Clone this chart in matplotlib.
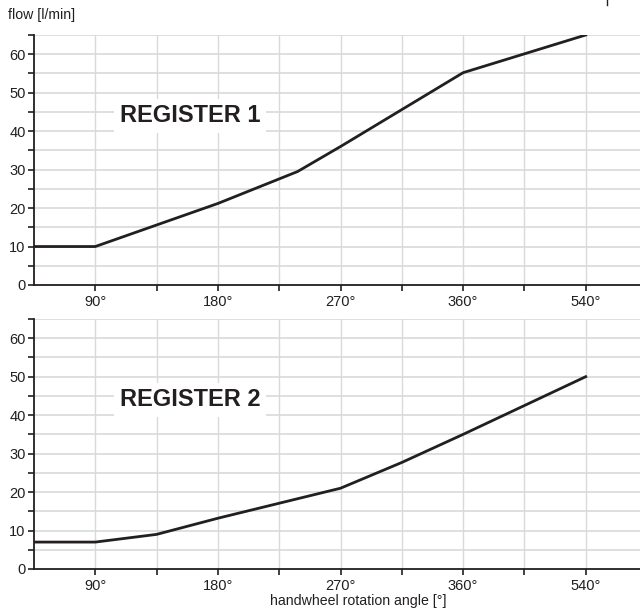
import matplotlib
matplotlib.use("Agg")
import matplotlib.pyplot as plt
from matplotlib import font_manager
from matplotlib.lines import Line2D

names = {f.name for f in font_manager.fontManager.ttflist}
narrow = 'Liberation Sans Narrow' in names
plt.rcParams['font.family'] = ['Liberation Sans Narrow', 'Liberation Sans', 'DejaVu Sans'] if narrow \
    else ['Liberation Sans', 'DejaVu Sans']
tick_fs = 12 if narrow else 10.5
lab_fs = 12 if narrow else 10.2

# x positions are gridline slots, labels sit on odd slots
tick_pos = [1, 3, 5, 7, 9]
tick_labels = ["90°", "180°", "270°", "360°", "540°"]

reg1_x = [0, 1, 3, 4.3, 5, 7, 9]
reg1_y = [10, 10, 21.2, 29.5, 36, 55.2, 65]

reg2_x = [0, 1, 2, 3, 5, 6, 7, 9]
reg2_y = [7, 7, 9, 13.2, 21, 27.7, 35, 50]

fig = plt.figure(figsize=(6.4, 6.12), dpi=100)
ax1 = fig.add_axes([34/640, 1 - 285/612, 606/640, 250/612])
ax2 = fig.add_axes([34/640, 1 - 569/612, 606/640, 250/612])

grid_c = "#d9d9d9"
dark = "#231f20"

for ax, xs, ys, name in [(ax1, reg1_x, reg1_y, "REGISTER 1"),
                         (ax2, reg2_x, reg2_y, "REGISTER 2")]:
    ax.set_xlim(0, 606/61.3)
    ax.set_ylim(0, 65)
    for gx in range(1, 10):
        ax.axvline(gx, color=grid_c, lw=1, zorder=0)
    for gy in range(5, 66, 5):
        ax.axhline(gy, color=grid_c, lw=1.2, zorder=0)
    ax.plot(xs, ys, color=dark, lw=2, solid_joinstyle='miter', zorder=3)
    ax.set_xticks(range(1, 10))
    ax.set_xticklabels(["" if i % 2 == 0 else tick_labels[(i - 1) // 2] for i in range(1, 10)])
    ax.set_yticks(range(0, 61, 10))
    ax.set_yticks(range(5, 66, 10), minor=True)
    ax.tick_params(axis='both', which='both', direction='out', length=4, width=1.2,
                   color=dark, labelsize=tick_fs, labelcolor=dark, pad=2)
    ax.tick_params(axis='x', pad=3)
    for s in ("top", "right"):
        ax.spines[s].set_visible(False)
    for s in ("left", "bottom"):
        ax.spines[s].set_color(dark)
        ax.spines[s].set_linewidth(1.3)
    ax.text(2.55, 43.8 if narrow else 44, name, fontsize=19 if narrow else 17,
            fontweight='bold', color=dark, ha='center', va='center', zorder=4,
            bbox=dict(facecolor='white', edgecolor='none', pad=4))

fig.text(8/640, 1 - 15/612, "flow [l/min]", fontsize=lab_fs, color=dark, ha='left', va='center')
fig.text(358/640, 1 - 601/612, "handwheel rotation angle [°]", fontsize=lab_fs, color=dark,
         ha='center', va='center')
fig.add_artist(Line2D([607/640, 607/640], [1, 1 - 5/612], color=dark, lw=1))

fig.savefig("out.png", dpi=100)
